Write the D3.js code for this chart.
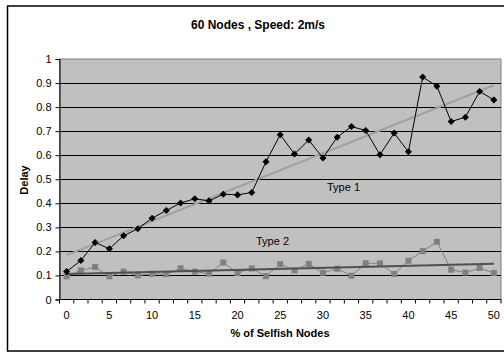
<!DOCTYPE html>
<html><head><meta charset="utf-8">
<script src="https://cdn.jsdelivr.net/npm/d3@7"></script>
<style>body{margin:0;background:#fff;} svg{display:block;font-family:"Liberation Sans",Arial,sans-serif;}</style>
</head><body><svg id="c" width="504" height="353"></svg>
<script>
const categories = [0,1.67,3.33,5,6.67,8.33,10,11.67,13.33,15,16.67,18.33,20,21.67,23.33,25,26.67,28.33,30,31.67,33.33,35,36.67,38.33,40,41.67,43.33,45,46.67,48.33,50];
const type1 = [0.116,0.162,0.237,0.211,0.265,0.294,0.338,0.370,0.401,0.419,0.410,0.438,0.435,0.445,0.573,0.685,0.605,0.663,0.588,0.675,0.719,0.703,0.602,0.692,0.614,0.925,0.887,0.740,0.758,0.865,0.830];
const type2 = [0.096,0.121,0.135,0.096,0.116,0.100,0.107,0.105,0.130,0.116,0.107,0.154,0.110,0.129,0.097,0.147,0.121,0.148,0.111,0.128,0.099,0.151,0.150,0.106,0.161,0.201,0.240,0.124,0.112,0.131,0.110];
const yTicks = [0,0.1,0.2,0.3,0.4,0.5,0.6,0.7,0.8,0.9,1];
const xTickLabels = ["0","5","10","15","20","25","30","35","40","45","50"];

const svg = d3.select("#c");
const L=59.5, R=501, T=59, B=299.5;
svg.append("rect").attr("x",7.5).attr("y",6).attr("width",510).attr("height",345).attr("fill","#fff").attr("stroke","#000").attr("stroke-width",1.5);

const x = d3.scaleBand().domain(d3.range(categories.length)).range([L,R]);
const y = d3.scaleLinear().domain([0,1]).range([B,T]);
const cx = i => x(i)+x.bandwidth()/2;

svg.append("rect").attr("x",L).attr("y",T).attr("width",R-L).attr("height",B-T).attr("fill","#c0c0c0").attr("stroke","#808080").attr("stroke-width",1);

// gridlines
svg.append("g").selectAll("line").data(yTicks.filter(v=>v>0&&v<1)).join("line")
  .attr("x1",L).attr("x2",R).attr("y1",d=>Math.round(y(d))+0.5).attr("y2",d=>Math.round(y(d))+0.5)
  .attr("stroke","#000").attr("stroke-width",1);

// y axis
const ya = svg.append("g").attr("transform",`translate(${L},0)`)
  .call(d3.axisLeft(y).tickValues(yTicks).tickSize(4).tickPadding(4).tickFormat(d=>d===0?"0":d3.format(".1f")(d).replace(/\.0$/,"")));
ya.selectAll("text").attr("font-size",11).attr("fill","#000").attr("font-family","'Liberation Sans',Arial,sans-serif");
ya.select(".domain").attr("stroke","#000");
ya.selectAll(".tick line").attr("stroke","#000");

// x axis: ticks at category boundaries
const xa = svg.append("g").attr("transform",`translate(0,${B})`);
xa.append("line").attr("x1",L).attr("x2",R).attr("stroke","#000");
xa.selectAll("line.tk").data(d3.range(categories.length+1)).join("line").attr("class","tk")
  .attr("x1",i=>L+i*x.step()).attr("x2",i=>L+i*x.step()).attr("y1",0).attr("y2",4).attr("stroke","#000");
xa.selectAll("text").data(d3.range(categories.length).filter(i=>i%3===0)).join("text")
  .attr("x",i=>cx(i)).attr("y",19).attr("text-anchor","middle").attr("font-size",11)
  .text((i,k)=>xTickLabels[k]);

// regression trend lines
function trend(vals){
  const n=vals.length, xs=d3.range(n);
  const mx=d3.mean(xs), my=d3.mean(vals);
  const b=d3.sum(xs,(v,i)=>(v-mx)*(vals[i]-my))/d3.sum(xs,v=>(v-mx)**2);
  const a=my-b*mx;
  return [[0,a],[n-1,a+b*(n-1)]];
}
const line = d3.line().x(d=>cx(d[0])).y(d=>y(d[1]));

// Type 2 series
svg.append("path").datum(type2.map((v,i)=>[i,v])).attr("d",line).attr("fill","none").attr("stroke","#808080").attr("stroke-width",1);
svg.append("g").selectAll("rect").data(type2).join("rect")
  .attr("x",(d,i)=>cx(i)-3).attr("y",d=>y(d)-3).attr("width",6).attr("height",6).attr("fill","#808080");
svg.append("path").datum(trend(type2)).attr("d",line).attr("fill","none").attr("stroke","#505050").attr("stroke-width",2);

// Type 1 series
svg.append("path").datum(trend(type1)).attr("d",line).attr("fill","none").attr("stroke","#a0a0a0").attr("stroke-width",2);
svg.append("path").datum(type1.map((v,i)=>[i,v])).attr("d",line).attr("fill","none").attr("stroke","#000").attr("stroke-width",1);
svg.append("g").selectAll("path").data(type1).join("path")
  .attr("d",d3.symbol(d3.symbolSquare,25)())
  .attr("transform",(d,i)=>`translate(${cx(i)},${y(d)}) rotate(45)`).attr("fill","#000");

// labels
svg.append("text").attr("x",327).attr("y",191).attr("font-size",11).text("Type 1");
svg.append("text").attr("x",256).attr("y",245).attr("font-size",11).text("Type 2");
svg.append("text").attr("x",258).attr("y",29).attr("text-anchor","middle").attr("font-size",12).attr("font-weight","bold").text("60 Nodes , Speed: 2m/s");
svg.append("text").attr("x",280).attr("y",337).attr("text-anchor","middle").attr("font-size",11).attr("font-weight","bold").text("% of Selfish Nodes");
svg.append("text").attr("transform","translate(28,180) rotate(-90)").attr("text-anchor","middle").attr("font-size",11).attr("font-weight","bold").text("Delay");
</script></body></html>
